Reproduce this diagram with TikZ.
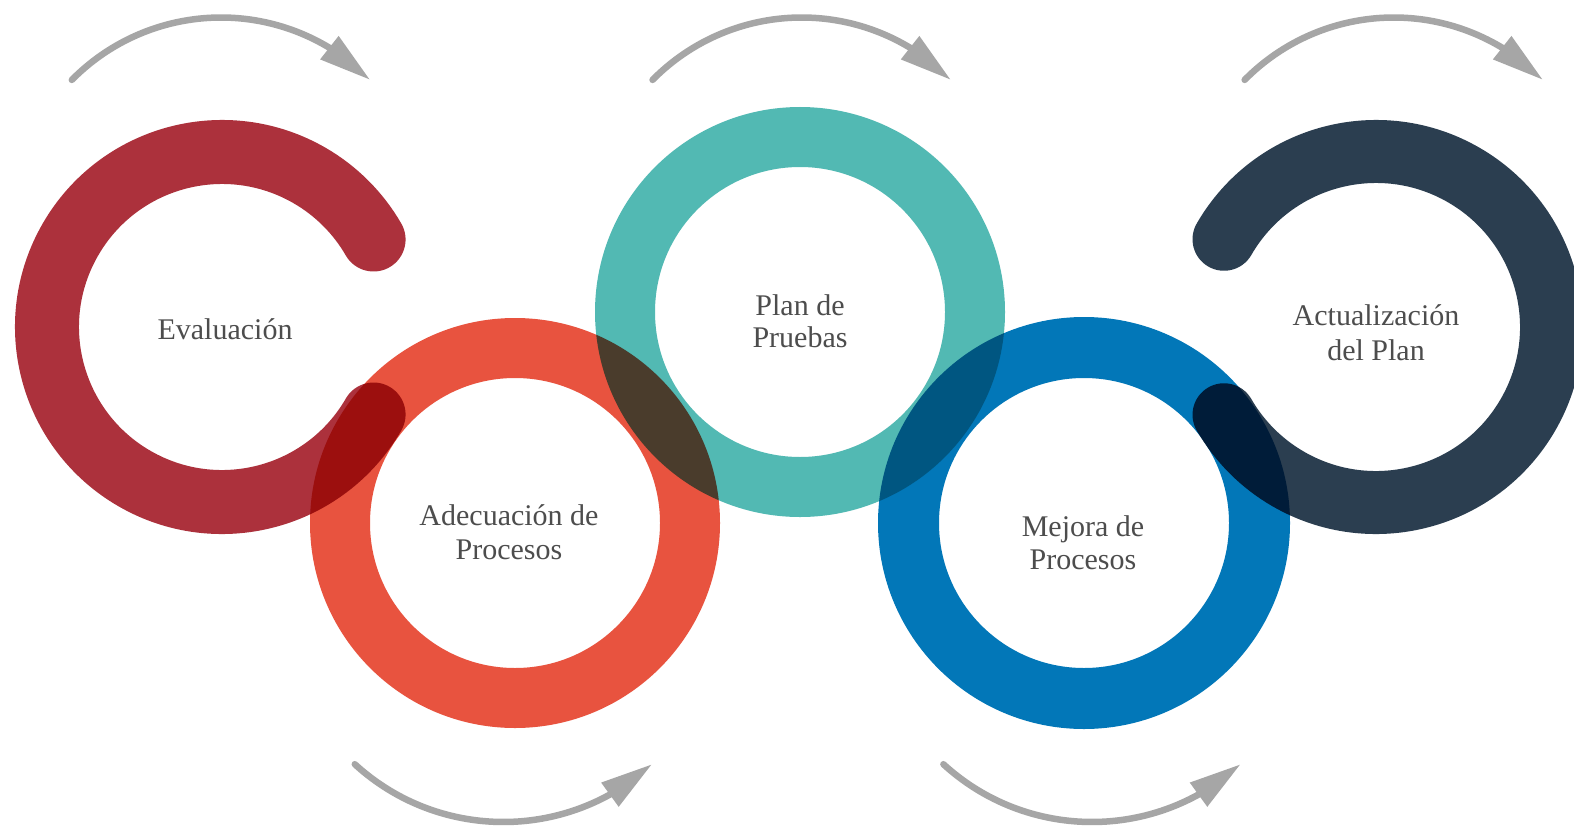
\documentclass[tikz,border=0pt]{standalone}
\usepackage{fontspec}
\setmainfont{Liberation Serif}
\usetikzlibrary{arrows.meta,bending}
\definecolor{cRed}{HTML}{AC313C}
\definecolor{cOrange}{HTML}{E8533F}
\definecolor{cTeal}{HTML}{52B9B3}
\definecolor{cBlue}{HTML}{0277B8}
\definecolor{cNavy}{HTML}{2B3E50}
\definecolor{cGray}{HTML}{A6A6A6}
\definecolor{cText}{HTML}{4D4D4D}
\begin{document}
\begin{tikzpicture}[x=1bp,y=-1bp,
  ring/.style={line width=#1, line cap=round, blend mode=multiply},
  garrow/.style={draw=cGray, line width=6.5bp, line cap=round,
    -{Triangle[length=52bp,width=28bp,flex]}},
  lbl/.style={anchor=base, inner sep=0pt, text=cText,
    font=\fontsize{30bp}{34bp}\selectfont}]
\fill[white] (0,0) rectangle (1574,829);
\useasboundingbox (0,0) rectangle (1574,829);
% ring centres
\coordinate (c1) at (222,327);
\coordinate (c2) at (515,523);
\coordinate (c3) at (800,312);
\coordinate (c4) at (1084,523);
\coordinate (c5) at (1376,327);
% rings
\draw[ring=64bp, cRed] (c1) ++(30:175) arc[start angle=30, end angle=330, radius=175];
\draw[ring=60bp, cOrange] (c2) circle[radius=175];
\draw[ring=60bp, cTeal] (c3) circle[radius=175];
\draw[ring=61bp, cBlue] (c4) circle[radius=175.5];
\draw[ring=63bp, cNavy] (c5) ++(-150:175.5) arc[start angle=-150, end angle=150, radius=175.5];
% arrow centres
\coordinate (a1) at (221,227);
\coordinate (a2) at (801.7,227);
\coordinate (a3) at (1393.8,227);
\coordinate (b1) at (503.4,602);
\coordinate (b2) at (1092,602);
\draw[garrow] (a1) ++(-135.4:209.5) arc[start angle=-135.4, end angle=-44.6, radius=209.5];
\draw[garrow] (a2) ++(-135.4:209.5) arc[start angle=-135.4, end angle=-44.6, radius=209.5];
\draw[garrow] (a3) ++(-135.4:209.5) arc[start angle=-135.4, end angle=-44.6, radius=209.5];
\draw[garrow] (b1) ++(132.5:220) arc[start angle=132.5, end angle=47.5, radius=220];
\draw[garrow] (b2) ++(132.5:220) arc[start angle=132.5, end angle=47.5, radius=220];
% labels
\node[lbl] (t1) at (225,339) {Evaluación};
\node[lbl] (t2a) at (509,525) {Adecuación de};
\node[lbl] (t2b) at (509,559) {Procesos};
\node[lbl] (t3a) at (800,315) {Plan de};
\node[lbl] (t3b) at (800,347) {Pruebas};
\node[lbl] (t4a) at (1083,536) {Mejora de};
\node[lbl] (t4b) at (1083,569) {Procesos};
\node[lbl] (t5a) at (1376,325) {Actualización};
\node[lbl] (t5b) at (1376,360) {del Plan};
\end{tikzpicture}
\end{document}
